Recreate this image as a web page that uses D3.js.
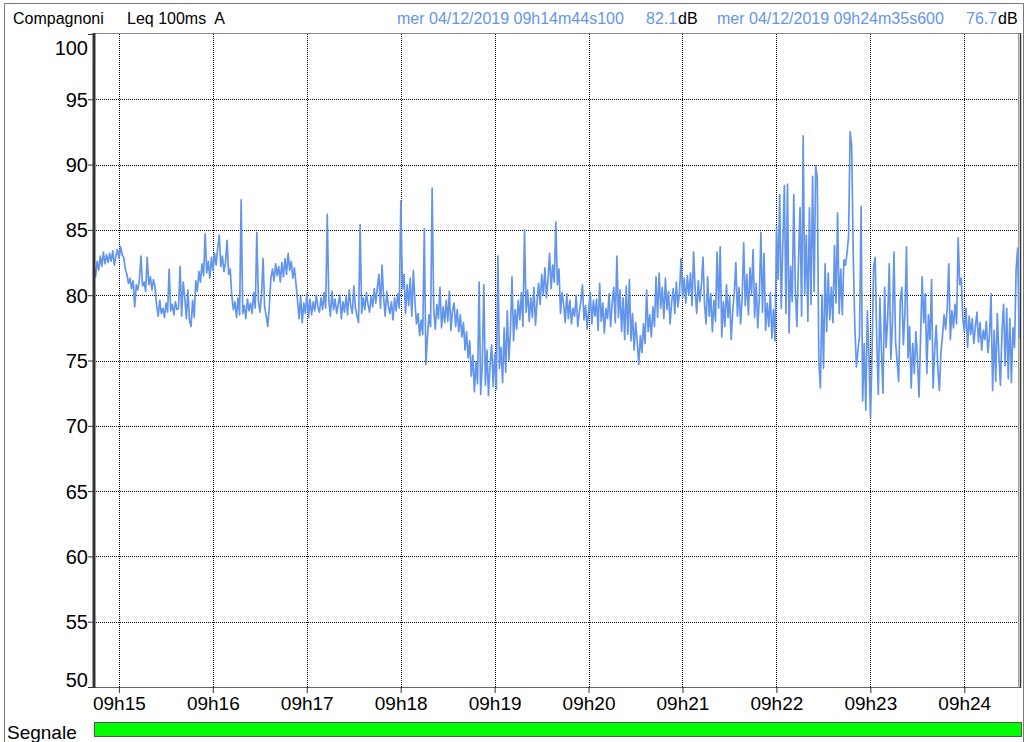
<!DOCTYPE html>
<html>
<head>
<meta charset="utf-8">
<script src="https://cdn.jsdelivr.net/npm/d3@7"></script>
<style>
  body { margin: 0; background: #fff; }
  svg { display: block; font-family: Arial, "Liberation Sans", sans-serif; }
</style>
</head>
<body>
<svg id="chart" width="1024" height="742"></svg>
<script>
// Leq 100ms A at roughly one value per second
const levels = [
  82.1, 81.4, 82.6, 81.9, 83.0, 82.2, 83.3, 82.4, 83.1, 82.5,
  83.2, 82.6, 83.4, 82.3, 83.0, 83.5, 82.8, 83.7, 83.1, 82.9,
  82.0, 81.6, 80.9, 81.3, 80.5, 81.1, 79.1, 80.8, 80.4, 81.2,
  83.0, 80.7, 81.0, 80.3, 82.9, 80.8, 81.4, 80.4, 81.2, 80.6,
  79.2, 78.4, 79.6, 78.6, 79.0, 78.3, 79.4, 78.7, 82.0, 78.8,
  79.3, 78.5, 79.5, 78.9, 79.0, 82.2, 78.4, 81.0, 79.8, 78.2,
  80.4, 78.0, 77.6, 79.6, 78.3, 81.1, 80.3, 81.8, 81.0, 82.4,
  81.5, 84.7, 81.7, 82.6, 81.3, 82.9, 81.9, 83.2, 82.3, 83.6,
  84.6, 82.2, 83.0, 81.8, 82.5, 84.2, 81.6, 82.0, 80.0, 78.9,
  79.5, 78.3, 79.8, 78.5, 87.3, 78.6, 79.2, 78.2, 79.7, 78.8,
  79.4, 78.6, 80.2, 79.0, 84.8, 79.6, 78.7, 80.0, 82.8, 79.1,
  78.4, 77.6, 79.2, 81.3, 82.0, 81.1, 82.4, 81.5, 82.2, 81.0,
  82.5, 81.4, 82.8, 81.6, 83.2, 81.9, 82.6, 81.3, 82.1, 80.9,
  79.6, 78.2, 79.9, 77.9, 79.4, 78.6, 80.1, 78.3, 79.7, 78.5,
  79.5, 78.8, 80.0, 79.1, 78.7, 79.8, 78.9, 80.2, 79.0, 86.2,
  79.6, 78.4, 80.3, 78.9, 79.7, 78.6, 79.3, 80.0, 78.2, 79.5,
  78.7, 79.9, 78.5, 80.4, 79.2, 78.6, 80.7, 79.0, 78.4, 77.9,
  85.4, 78.6, 79.8, 78.9, 80.2, 79.3, 78.7, 79.9, 79.1, 80.5,
  79.4, 80.6, 81.6, 79.0, 82.3, 79.8, 78.4, 80.3, 79.2, 78.6,
  79.5, 78.1, 79.8, 78.8, 80.1, 79.0, 87.2, 80.5, 81.6, 78.6,
  80.8, 79.2, 81.3, 78.4, 81.9, 79.5, 77.8, 78.6, 76.9, 78.1,
  77.0, 85.1, 74.7, 76.8, 78.5, 77.6, 88.2, 78.9, 77.4, 79.3,
  78.2, 80.6, 77.5, 79.1, 77.9, 79.6, 78.0, 80.3, 77.3, 78.8,
  79.4, 77.6, 78.9, 77.2, 78.5, 76.8, 77.9, 75.8, 77.2, 75.2,
  76.5, 73.8, 75.4, 72.6, 74.9, 73.2, 81.0, 72.4, 74.6, 80.8,
  73.1, 75.8, 72.3, 74.7, 76.2, 73.0, 75.5, 72.8, 83.0, 74.4,
  76.0, 73.3, 77.5, 74.1, 78.8, 75.0, 77.2, 81.4, 76.5, 78.9,
  77.4, 79.6, 78.1, 80.2, 77.6, 85.0, 78.7, 80.4, 78.0, 79.8,
  78.3, 80.6, 77.7, 79.5, 80.9, 79.3, 81.6, 80.0, 82.1, 79.8,
  81.2, 83.2, 80.5, 82.3, 81.0, 85.6, 80.8, 82.0, 78.6, 80.2,
  79.3, 77.9, 80.1, 78.2, 79.6, 77.8, 79.0, 78.4, 80.0, 77.6,
  78.7, 79.5, 80.8, 78.1, 79.2, 77.4, 78.9, 80.2, 77.8, 79.6,
  78.4, 79.7, 77.3, 80.9, 78.0, 79.4, 77.1, 79.0, 78.2, 80.1,
  77.6, 79.4, 80.6, 77.9, 83.0, 78.3, 80.4, 77.2, 79.8, 76.6,
  80.7, 77.0, 81.2, 76.5, 78.6, 75.8, 77.9, 76.4, 74.7, 76.9,
  75.6, 77.8, 76.3, 80.4, 77.2, 78.5, 76.8, 79.1, 77.6, 81.4,
  78.3, 81.7, 79.0, 80.6, 78.2, 81.3, 78.9, 80.3, 77.8, 79.5,
  80.5, 78.6, 81.0, 79.1, 80.2, 82.8, 79.8, 81.3, 79.4, 81.5,
  80.0, 81.7, 79.2, 83.3, 80.4, 78.6, 81.1, 79.5, 80.8, 82.9,
  79.3, 77.8, 81.4, 78.4, 80.1, 77.2, 79.6, 78.0, 83.3, 79.0,
  83.7, 76.8, 79.5, 77.6, 80.8, 78.3, 79.9, 76.6, 78.8, 80.2,
  82.5, 78.4, 80.6, 77.8, 79.7, 84.0, 79.2, 81.6, 78.5, 82.1,
  80.0, 83.5, 78.3, 80.9, 77.5, 79.8, 84.8, 78.7, 83.2, 77.3,
  79.4, 77.6, 80.2, 76.7, 78.9, 76.5, 85.3, 81.2, 87.7, 79.0,
  84.0, 88.4, 78.6, 88.5, 77.1, 82.2, 79.5, 87.7, 80.3, 77.6,
  82.5, 86.7, 78.4, 92.2, 80.1, 84.6, 78.0, 86.7, 79.3, 89.1,
  80.3, 89.9, 89.0, 75.0, 72.9, 80.0, 74.4, 82.4, 77.2, 81.7,
  78.1, 80.6, 77.9, 83.8, 79.4, 86.3, 78.6, 82.0, 78.5, 82.7,
  82.3, 83.2, 84.5, 92.5, 91.4, 82.9, 77.6, 74.5, 75.8, 76.9,
  86.8, 71.9, 76.3, 71.2, 78.8, 75.4, 70.6, 75.6, 82.2, 82.9,
  76.5, 72.4, 79.8, 75.7, 72.5, 80.6, 76.0, 78.3, 82.4, 75.1,
  77.8, 83.3, 76.5, 74.9, 73.4, 79.5, 80.6, 76.2, 78.7, 83.7,
  75.2, 77.6, 72.9, 76.3, 74.0, 77.2, 75.1, 72.2, 76.8, 81.4,
  77.9, 80.1, 74.0, 78.5, 76.6, 81.2, 72.9, 75.8, 77.7, 74.4,
  72.7, 75.6, 76.9, 78.5, 77.4, 79.0, 82.4, 76.6, 78.8, 77.5,
  79.3, 77.8, 84.4, 80.8, 81.3, 78.1, 77.2, 79.0, 76.0, 78.4,
  77.0, 78.2, 76.3, 77.6, 78.7, 76.4, 77.9, 75.8, 77.3, 76.6,
  78.0, 75.6, 76.9, 80.1, 72.7, 77.3, 73.4, 78.6, 75.5, 73.1,
  77.2, 79.3, 74.6, 79.0, 73.6, 78.2, 73.3, 77.5, 76.0, 81.9,
  83.6, 76.7
];
const startStamp = "04/12/2019 09h14m44s100";
const endStamp = "04/12/2019 09h24m35s600";
const startLevel = "82.1";
const endLevel = "76.7";
const sampleSeconds = 1;

const yTicks = [50, 55, 60, 65, 70, 75, 80, 85, 90, 95, 100];
const xTickLabels = ["09h15", "09h16", "09h17", "09h18", "09h19", "09h20", "09h21", "09h22", "09h23", "09h24"];

const parseStamp = d3.timeParse("%d/%m/%Y %Hh%Mm%Ss%L");
const t0 = parseStamp(startStamp), t1 = parseStamp(endStamp);
const day = d3.timeFormat("%Y-%m-%d")(t0);
const parseTick = d3.timeParse("%Y-%m-%d %Hh%M");
const points = levels.map((v, i) => ({
  t: new Date(Math.min(+t0 + i * sampleSeconds * 1000, +t1)), v
}));

const svg = d3.select("#chart");
const plotLeft = 94, plotRight = 1020, plotTop = 34, plotBottom = 687;

const x = d3.scaleTime().domain([t0, t1]).range([plotLeft, plotRight]);
const y = d3.scaleLinear().domain([50, 100]).range([plotBottom, plotTop]);

// outer frame
svg.append("path").attr("d", "M4.5,742 V3.5 H1023.5 V742")
  .attr("fill", "none").attr("stroke", "#777");

// header
const head = svg.append("g").attr("font-size", 16);
head.append("text").attr("x", 13).attr("y", 24).text("Compagnoni");
head.append("text").attr("x", 127).attr("y", 24).attr("xml:space", "preserve").text("Leq 100ms  A");
const blue = "#6495ED";
head.append("text").attr("x", 397).attr("y", 24).attr("fill", blue).text("mer " + startStamp);
head.append("text").attr("x", 646).attr("y", 24).attr("fill", blue).text(startLevel);
head.append("text").attr("x", 678).attr("y", 24).text("dB");
head.append("text").attr("x", 717).attr("y", 24).attr("fill", blue).text("mer " + endStamp);
head.append("text").attr("x", 966).attr("y", 24).attr("fill", blue).text(endLevel);
head.append("text").attr("x", 998).attr("y", 24).text("dB");

// grid
const xTicks = xTickLabels.map(s => parseTick(day + " " + s));
svg.append("g").selectAll("line").data(yTicks.slice(1, -1)).join("line")
  .attr("x1", plotLeft).attr("x2", plotRight)
  .attr("y1", d => Math.round(y(d)) + 0.5).attr("y2", d => Math.round(y(d)) + 0.5)
  .attr("stroke", "#000").attr("stroke-dasharray", "1,1");
svg.append("g").selectAll("line").data(xTicks).join("line")
  .attr("x1", d => Math.round(x(d)) + 0.5).attr("x2", d => Math.round(x(d)) + 0.5)
  .attr("y1", plotTop).attr("y2", plotBottom)
  .attr("stroke", "#000").attr("stroke-dasharray", "1,1");

// frame of the plot
svg.append("line").attr("x1", plotLeft).attr("x2", plotRight + 1).attr("y1", 33.5).attr("y2", 33.5).attr("stroke", "#888");
svg.append("line").attr("x1", plotLeft).attr("x2", plotRight + 1).attr("y1", plotBottom + 0.5).attr("y2", plotBottom + 0.5).attr("stroke", "#666");
svg.append("line").attr("x1", plotRight - 1.5).attr("x2", plotRight - 1.5).attr("y1", 33).attr("y2", plotBottom + 1).attr("stroke", "#999");
svg.append("line").attr("x1", plotRight + 0.5).attr("x2", plotRight + 0.5).attr("y1", 33).attr("y2", plotBottom + 1).attr("stroke", "#333").attr("stroke-width", 1.5);

// data trace
const line = d3.line().x(d => x(d.t)).y(d => y(d.v));
svg.append("path").datum(points)
  .attr("d", line).attr("fill", "none")
  .attr("stroke", blue).attr("stroke-width", 1.7).attr("stroke-linejoin", "round");

// y axis
const yAxis = svg.append("g").attr("transform", `translate(${plotLeft},0)`)
  .call(d3.axisLeft(y).tickValues(yTicks).tickSize(6).tickPadding(0).tickFormat(d3.format("d")));
yAxis.select(".domain").remove();
yAxis.selectAll(".tick line").attr("stroke", "#333");
yAxis.selectAll(".tick text").attr("font-size", 20).attr("fill", "#000")
  .attr("font-family", "Arial, 'Liberation Sans', sans-serif")
  .attr("dy", d => d === 100 ? "1.0em" : d === 50 ? "-0.05em" : "0.35em");
svg.append("line").attr("x1", plotLeft).attr("x2", plotLeft).attr("y1", 33).attr("y2", plotBottom + 1)
  .attr("stroke", "#333").attr("stroke-width", 3);

// x axis
const xAxis = svg.append("g").attr("transform", `translate(0,${plotBottom})`)
  .call(d3.axisBottom(x).tickValues(xTicks).tickSize(6).tickPadding(4)
    .tickFormat((d, i) => xTickLabels[i]));
xAxis.select(".domain").remove();
xAxis.selectAll(".tick line").attr("stroke", "#333");
xAxis.selectAll(".tick text").attr("font-size", 19).attr("fill", "#000")
  .attr("font-family", "Arial, 'Liberation Sans', sans-serif");

// signal strip
svg.append("text").attr("x", 7).attr("y", 739).attr("font-size", 19).text("Segnale");
svg.append("rect").attr("x", plotLeft + 0.5).attr("y", 722.5).attr("width", plotRight - plotLeft + 1).attr("height", 14)
  .attr("fill", "#00ff00").attr("stroke", "#555");
</script>
</body>
</html>
